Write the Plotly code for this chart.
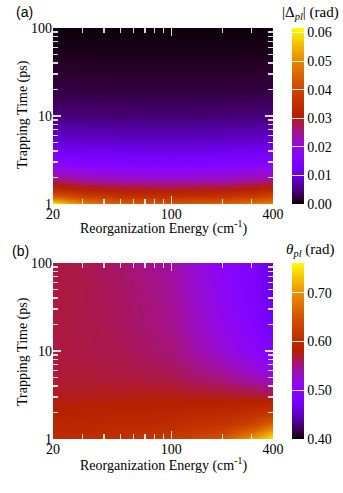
import math
import plotly.graph_objects as go

# ---------------- data ----------------
reorg_energy = [20, 30, 50, 100, 200, 300, 400]            # cm^-1
trap_time = [1, 1.2, 1.5, 2, 3, 5, 10, 20, 50, 100]        # ps

# |Delta_pl| (rad), rows = trap_time, cols = reorg_energy
delta_pl = [
    [0.061, 0.050, 0.045, 0.043, 0.045, 0.048, 0.050],
    [0.045, 0.040, 0.037, 0.036, 0.037, 0.039, 0.041],
    [0.034, 0.031, 0.0295, 0.029, 0.0295, 0.031, 0.033],
    [0.025, 0.023, 0.022, 0.0215, 0.022, 0.023, 0.024],
    [0.0165, 0.0155, 0.015, 0.0145, 0.015, 0.0155, 0.016],
    [0.0100, 0.0095, 0.0092, 0.0090, 0.0092, 0.0095, 0.0098],
    [0.0051, 0.0049, 0.0047, 0.0046, 0.0047, 0.0048, 0.0050],
    [0.0026, 0.0025, 0.0024, 0.0024, 0.0024, 0.0025, 0.0026],
    [0.0011, 0.0010, 0.0010, 0.0010, 0.0010, 0.0010, 0.0011],
    [0.0005, 0.0005, 0.0005, 0.0005, 0.0005, 0.0005, 0.0005],
]

# theta_pl (rad)
theta_pl = [
    [0.600, 0.603, 0.608, 0.620, 0.650, 0.710, 0.752],
    [0.597, 0.599, 0.603, 0.610, 0.630, 0.668, 0.715],
    [0.592, 0.594, 0.596, 0.601, 0.612, 0.630, 0.665],
    [0.584, 0.586, 0.588, 0.592, 0.598, 0.606, 0.618],
    [0.574, 0.575, 0.576, 0.577, 0.575, 0.573, 0.570],
    [0.568, 0.568, 0.567, 0.563, 0.548, 0.535, 0.522],
    [0.566, 0.565, 0.562, 0.553, 0.525, 0.505, 0.488],
    [0.566, 0.564, 0.560, 0.548, 0.515, 0.495, 0.475],
    [0.566, 0.564, 0.558, 0.544, 0.508, 0.490, 0.462],
    [0.566, 0.563, 0.556, 0.541, 0.505, 0.488, 0.455],
]

x_ticks = [20, 100, 400]
x_minor = [30, 40, 50, 60, 70, 80, 90, 200, 300]
y_ticks = [1, 10, 100]
y_minor = [2, 3, 4, 5, 6, 7, 8, 9, 20, 30, 40, 50, 60, 70, 80, 90]
cb_a_ticks = [0.00, 0.01, 0.02, 0.03, 0.04, 0.05, 0.06]
cb_b_ticks = [0.40, 0.50, 0.60, 0.70]

# ---------------- palette (gnuplot rgbformulae 7,5,15) ----------------
def pal(t):
    r = math.sqrt(t)
    g = t ** 3
    b = max(0.0, min(1.0, math.sin(2 * math.pi * t)))
    return "rgb(%d,%d,%d)" % (round(r * 255), round(g * 255), round(b * 255))

N = 40
cscale = [[i / N, pal(i / N)] for i in range(N + 1)]

W, H = 343, 493
PL, PR, PT, PB = 53, 273, 28, 439          # px of the plot block
L, T = PL, PT
R = W - PR
B = H - PB
pw, ph = W - L - R, H - T - B

def px2x(px):
    return (px - PL) / pw

def py2y(py):
    return (PB - py) / ph

serif = "Liberation Serif"
tickc = "rgba(255,255,255,0.85)"
black14 = dict(family=serif, size=14, color="black")

fig = go.Figure()

fig.add_trace(go.Heatmap(
    x=reorg_energy, y=trap_time, z=delta_pl, zsmooth="best",
    colorscale=cscale, zmin=0.0, zmax=0.0616,
    xaxis="x", yaxis="y",
    colorbar=dict(
        x=px2x(292), xanchor="left", y=py2y(28), yanchor="top",
        len=py2y(28) - py2y(204), lenmode="fraction", thickness=12,
        outlinewidth=0, tickvals=cb_a_ticks, tickformat=".2f",
        ticks="inside", ticklen=12, tickcolor="rgba(255,255,255,0.9)",
        tickfont=black14, ypad=0, xpad=0,
    ),
))

fig.add_trace(go.Heatmap(
    x=reorg_energy, y=trap_time, z=theta_pl, zsmooth="best",
    colorscale=cscale, zmin=0.40, zmax=0.761,
    xaxis="x2", yaxis="y2",
    colorbar=dict(
        x=px2x(292), xanchor="left", y=py2y(263), yanchor="top",
        len=py2y(263) - py2y(439), lenmode="fraction", thickness=12,
        outlinewidth=0, tickvals=cb_b_ticks, tickformat=".2f",
        ticks="inside", ticklen=12, tickcolor="rgba(255,255,255,0.9)",
        tickfont=black14, ypad=0, xpad=0,
    ),
))

def xax(anchor):
    return dict(
        type="log", range=[math.log10(20), math.log10(400)], domain=[0, 1],
        anchor=anchor, tickvals=x_ticks, ticktext=[str(v) for v in x_ticks],
        ticks="inside", ticklen=8, tickwidth=1.2, tickcolor=tickc, mirror="ticks",
        minor=dict(tickvals=x_minor, ticks="inside", ticklen=5, tickwidth=1.2, tickcolor=tickc),
        showgrid=False, zeroline=False, showline=False, tickfont=black14,
    )

def yax(anchor, dom):
    return dict(
        type="log", range=[0, 2], domain=dom, anchor=anchor,
        tickvals=y_ticks, ticktext=[str(v) for v in y_ticks],
        ticks="inside", ticklen=8, tickwidth=1.2, tickcolor=tickc, mirror="ticks",
        minor=dict(tickvals=y_minor, ticks="inside", ticklen=5, tickwidth=1.2, tickcolor=tickc),
        showgrid=False, zeroline=False, showline=False, tickfont=black14,
    )

def ann(text, x, y, font, xanchor="center", **kw):
    d = dict(text=text, x=px2x(x), y=py2y(y), xref="paper", yref="paper",
             showarrow=False, font=font, xanchor=xanchor, yanchor="middle")
    d.update(kw)
    return d

sans14 = dict(family="Liberation Sans", size=14, color="black")
serif15 = dict(family=serif, size=15, color="black")
xt = "Reorganization Energy (cm<sup>-1</sup>)"
yt = "Trapping Time (ps)"

fig.update_layout(
    width=W, height=H,
    margin=dict(l=L, r=R, t=T, b=B, autoexpand=False),
    paper_bgcolor="white", plot_bgcolor="white",
    showlegend=False,
    xaxis=xax("y"), yaxis=yax("x", [py2y(204), 1.0]),
    xaxis2=xax("y2"), yaxis2=yax("x2", [0.0, py2y(263)]),
    annotations=[
        ann("(a)", 24, 12, sans14),
        ann("(b)", 20, 251, sans14),
        ann("|Δ<sub><i>pl</i></sub>| (rad)", 341, 13, serif15, xanchor="right"),
        ann("<i>θ<sub>pl</sub></i> (rad)", 336, 250, serif15, xanchor="right"),
        ann(xt, 163, 228, black14),
        ann(xt, 163, 465, black14),
        ann(yt, 23, 115, black14, textangle=-90),
        ann(yt, 23, 352, black14, textangle=-90),
    ],
)

fig.write_html(
    "out.html",
    config={"displayModeBar": False, "staticPlot": True},
    post_script="document.body.style.margin='0';document.body.style.overflow='hidden';",
)
